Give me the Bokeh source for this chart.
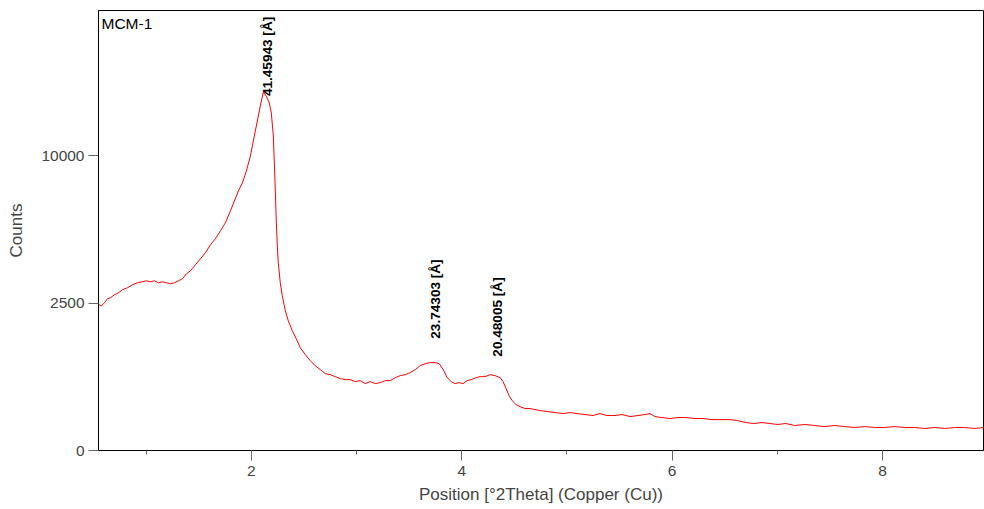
import math

from bokeh.core.properties import value
from bokeh.embed import file_html
from bokeh.models import ColumnDataSource, FixedTicker, Range1d
from bokeh.plotting import figure
from bokeh.resources import INLINE

# Diffractogram of sample MCM-1 (Cu K-alpha), counts shown on a square-root scale
two_theta = [
    0.547, 0.576, 0.604, 0.632, 0.661, 0.699, 0.737, 0.775, 0.822, 0.870,
    0.917, 0.965, 1.003, 1.041, 1.079, 1.117, 1.155, 1.193, 1.231, 1.269,
    1.307, 1.345, 1.383, 1.421, 1.468, 1.516, 1.563, 1.611, 1.658, 1.706,
    1.753, 1.801, 1.839, 1.877, 1.915, 1.953, 1.991, 2.028, 2.057, 2.085,
    2.114, 2.142, 2.171, 2.190, 2.209, 2.218, 2.228, 2.237, 2.247, 2.256,
    2.275, 2.294, 2.323, 2.351, 2.389, 2.427, 2.465, 2.513, 2.560, 2.607,
    2.655, 2.703, 2.750, 2.798, 2.845, 2.893, 2.940, 2.988, 3.035, 3.083,
    3.130, 3.178, 3.225, 3.273, 3.320, 3.368, 3.415, 3.463, 3.510, 3.558,
    3.605, 3.653, 3.700, 3.748, 3.786, 3.824, 3.862, 3.900, 3.937, 3.975,
    4.013, 4.051, 4.089, 4.137, 4.175, 4.222, 4.270, 4.317, 4.365, 4.393,
    4.422, 4.450, 4.479, 4.517, 4.555, 4.602, 4.650, 4.697, 4.745, 4.811,
    4.887, 4.963, 5.029, 5.096, 5.172, 5.248, 5.314, 5.381, 5.457, 5.524,
    5.600, 5.676, 5.742, 5.789, 5.837, 5.903, 5.979, 6.055, 6.131, 6.217,
    6.293, 6.378, 6.454, 6.549, 6.625, 6.701, 6.777, 6.853, 6.929, 7.005,
    7.081, 7.166, 7.261, 7.356, 7.451, 7.546, 7.641, 7.736, 7.831, 7.926,
    8.021, 8.116, 8.211, 8.306, 8.401, 8.496, 8.591, 8.686, 8.781, 8.876,
    8.961,
]
counts = [
    2450, 2416, 2517, 2655, 2690, 2797, 2869, 2979, 3053, 3166,
    3243, 3282, 3321, 3282, 3321, 3243, 3282, 3243, 3205, 3243,
    3321, 3400, 3600, 3723, 3975, 4236, 4505, 4876, 5164, 5562,
    5974, 6619, 7182, 7768, 8253, 9009, 10000, 11402, 12514, 13677,
    14809, 14481, 13916, 13127, 11402, 9664, 7768, 6079, 4829, 4061,
    3243, 2761, 2252, 1942, 1655, 1441, 1219, 1059, 931, 830,
    754, 681, 664, 629, 596, 579, 579, 547, 563, 516,
    547, 516, 531, 563, 563, 612, 646, 664, 699, 754,
    830, 870, 890, 890, 870, 754, 612, 547, 516, 531,
    516, 563, 579, 612, 629, 629, 664, 646, 612, 547,
    442, 348, 287, 243, 222, 203, 203, 193, 184, 175,
    166, 157, 166, 157, 149, 141, 157, 141, 141, 149,
    133, 141, 149, 157, 133, 125, 118, 125, 125, 118,
    118, 110, 110, 110, 103, 90, 84, 90, 84, 78,
    84, 72, 78, 72, 66, 72, 66, 61, 66, 61,
    61, 66, 61, 61, 56, 61, 56, 61, 61, 56,
    61,
]

# Identified reflections: d-spacing (Angstrom) and the count level where each label starts
peak_d = [41.45943, 23.74303, 20.48005]
peak_label_counts = [14480, 1441, 1015]
wavelength = 1.5406  # Cu K-alpha1, Angstrom

y_tick_counts = [0, 2500, 10000]
x_major_ticks = [2, 4, 6, 8]
x_minor_ticks = [1, 3, 5, 7]

FONT = "Liberation Sans"

sqrt_counts = [math.sqrt(c) for c in counts]
src = ColumnDataSource(data=dict(x=two_theta, y=sqrt_counts))

p = figure(
    width=984, height=509,
    output_backend="svg", toolbar_location=None,
    x_range=Range1d(0.547, 8.96), y_range=Range1d(0, 149.4),
    min_border_left=98, min_border_right=1, min_border_top=10, min_border_bottom=59,
    background_fill_color="white", border_fill_color="white",
)
p.outline_line_color = "black"
p.outline_line_width = 1
p.xgrid.visible = False
p.ygrid.visible = False

p.line("x", "y", source=src, line_color="#ff0000", line_width=1)

# Peak annotations, placed at the Bragg angle of each d-spacing
peak_x = [2 * math.degrees(math.asin(wavelength / (2 * d))) for d in peak_d]
peak_y = [math.sqrt(c) for c in peak_label_counts]
peak_text = [f"{d:.5f} [Å]" for d in peak_d]
p.text(
    x=peak_x, y=peak_y, text=peak_text, angle=math.pi / 2,
    text_align="left", text_baseline="middle", x_offset=3,
    text_font=value(FONT), text_font_style="bold", text_font_size="13.6px",
    text_color="black",
)

# Sample name in the upper-left corner
p.text(
    x=[0.547], y=[149.4], text=["MCM-1"], x_offset=3, y_offset=4,
    text_align="left", text_baseline="top",
    text_font=value(FONT), text_font_size="15.5px", text_color="black",
)

# x axis
xa = p.xaxis[0]
xa.ticker = FixedTicker(ticks=x_major_ticks, minor_ticks=x_minor_ticks)
xa.axis_label = "Position [°2Theta] (Copper (Cu))"
xa.axis_label_text_font = FONT
xa.axis_label_text_font_style = "normal"
xa.axis_label_text_font_size = "17px"
xa.axis_label_standoff = 6
xa.major_label_text_font = FONT
xa.major_label_text_font_size = "15.5px"
xa.major_label_standoff = 5
xa.axis_line_color = "black"
xa.major_tick_line_color = "#666666"
xa.major_tick_out = 10
xa.major_tick_in = 0
xa.minor_tick_line_color = "#666666"
xa.minor_tick_out = 4
xa.minor_tick_in = 0

# y axis (square-root scale, labelled in raw counts)
ya = p.yaxis[0]
ya.ticker = FixedTicker(ticks=[math.sqrt(c) for c in y_tick_counts], minor_ticks=[])
ya.major_label_overrides = {math.sqrt(c): str(c) for c in y_tick_counts}
ya.axis_label = "Counts"
ya.axis_label_text_font = FONT
ya.axis_label_text_font_style = "normal"
ya.axis_label_text_font_size = "17px"
ya.axis_label_standoff = 12
ya.major_label_text_font = FONT
ya.major_label_text_font_size = "15.5px"
ya.major_label_standoff = 4
ya.axis_line_color = "black"
ya.major_tick_line_color = "#666666"
ya.major_tick_out = 10
ya.major_tick_in = 0
ya.minor_tick_line_color = None

open("out.html", "w").write(file_html(p, INLINE))
